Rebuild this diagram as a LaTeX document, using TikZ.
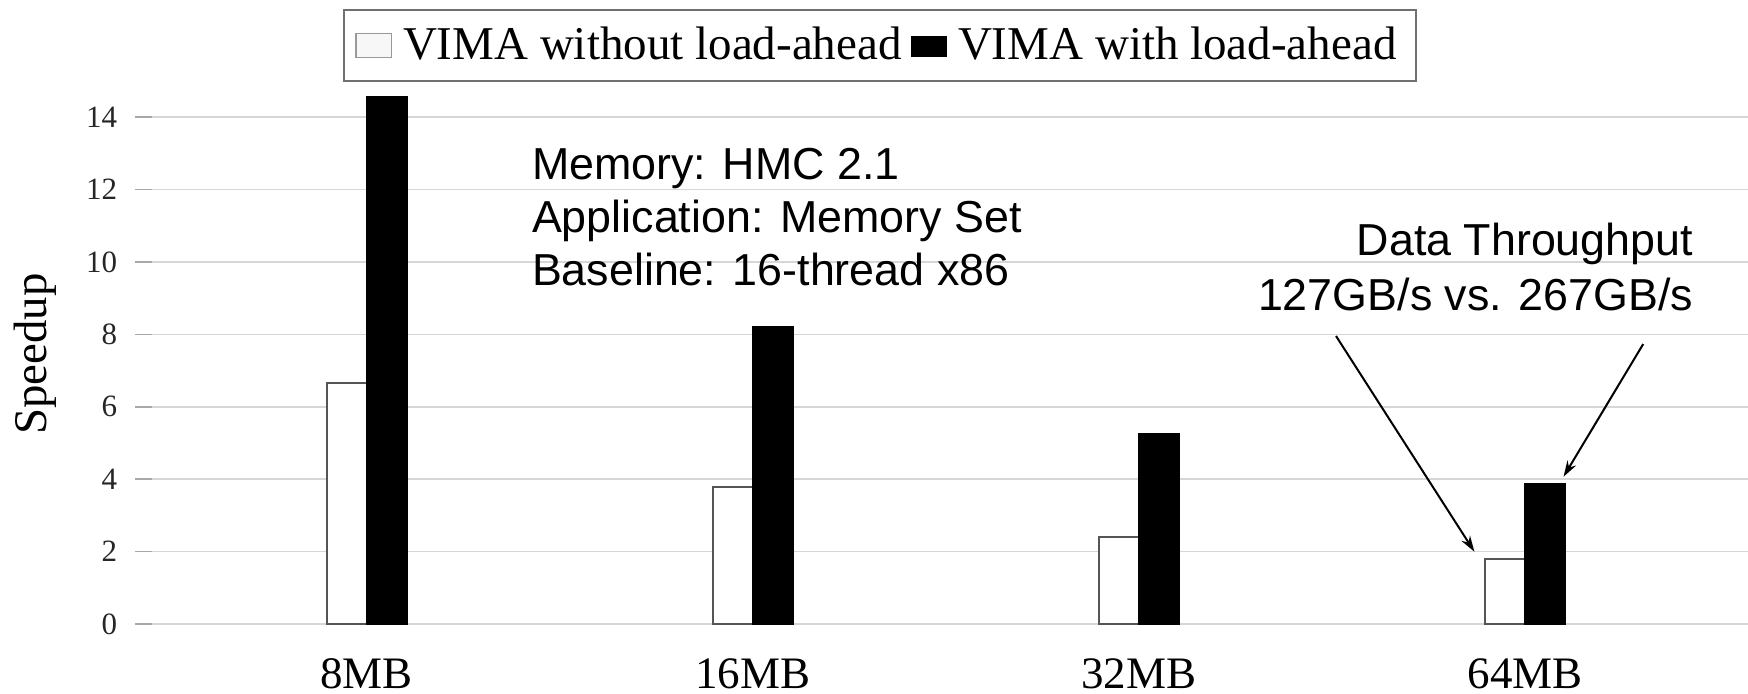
\documentclass[tikz,border=0pt]{standalone}
\usepackage{fontspec}
\setmainfont{Liberation Serif}
\newfontfamily\annfont{Liberation Sans}
\usetikzlibrary{arrows.meta}

\definecolor{gridgray}{HTML}{D6D6D6}
\definecolor{tickgray}{HTML}{A8A8A8}
\definecolor{edgegray}{HTML}{555555}
\definecolor{framegray}{HTML}{707070}

\begin{document}
\begin{tikzpicture}[x=0.5pt,y=-0.5pt,
  every node/.style={inner sep=0pt, outer sep=0pt},
  gridline/.style={draw=gridgray, line width=0.8pt},
  tickmark/.style={draw=tickgray, line width=0.8pt},
  ticklabel/.style={anchor=east, font=\fontsize{15.5}{18}\selectfont, text=black!85},
  catlabel/.style={anchor=base, font=\fontsize{22.5}{26}\selectfont},
  barwhite/.style={draw=edgegray, fill=white, line width=0.8pt},
  barblack/.style={draw=black, fill=black, line width=0.8pt},
  legtext/.style={anchor=base west, font=\fontsize{23.5}{28}\selectfont},
  anntext/.style={font=\annfont\fontsize{22.4}{26}\selectfont},
  pointer/.style={draw=black, line width=1pt, -{Stealth[length=8pt,width=5pt]}}
]
\useasboundingbox (0,0) rectangle (1748,693);

% value axis: 36.2 px per unit, zero at y = 624
\def\yz{624}
\def\yu{36.2}

% horizontal grid lines with labels
\foreach \v in {0,2,...,14} {
  \draw[gridline] (135,{\yz-\v*\yu}) -- (1748,{\yz-\v*\yu});
  \draw[tickmark] (135,{\yz-\v*\yu}) -- (152,{\yz-\v*\yu});
  \node[ticklabel] (tick\v) at (117,{\yz-\v*\yu}) {\v};
}

% axis title
\node[rotate=90, anchor=base, font=\fontsize{23.4}{28}\selectfont] (ytitle) at (46,354) {Speedup};

% bar groups: centre x, value without, value with, label
\foreach \c/\a/\b/\lab [count=\i] in {366.7/6.65/14.56/8MB, 752.8/3.78/8.22/16MB, 1138.9/2.40/5.25/32MB, 1525/1.79/3.87/64MB} {
  \draw[barwhite] (\c-40,\yz) rectangle (\c,{\yz-\a*\yu});
  \draw[barblack] (\c,\yz) rectangle (\c+40,{\yz-\b*\yu});
  \node[catlabel] (cat\i) at (\c,688) {\lab};
}

% legend
\draw[draw=framegray, line width=1.2pt, fill=white] (344,10) rectangle (1416,80.7);
\draw[draw=gray!80, fill=white!97!black, line width=0.7pt] (356,33.3) rectangle (391.7,57.3);
\node[legtext] (leg1) at (403,59.3) {VIMA without load-ahead};
\draw[draw=black, fill=black] (911,36.7) rectangle (946.7,56.7);
\node[legtext] (leg2) at (958,59.3) {VIMA with load-ahead};

% configuration notes
\node[anntext, anchor=base west] (mem1) at (532,179) {Memory: HMC 2.1};
\node[anntext, anchor=base west] (mem2) at (532,232) {Application: Memory Set};
\node[anntext, anchor=base west] (mem3) at (532,285) {Baseline: 16-thread x86};

% throughput note with pointers to the 64MB bars
\node[anntext, anchor=base east] (dt1) at (1693,255.5) {Data Throughput};
\node[anntext, anchor=base east] (dt2) at (1693,310.5) {127GB/s vs. 267GB/s};
\coordinate (pL1) at (1336,336);
\coordinate (pL2) at (1474.4,551.7);
\coordinate (pR1) at (1643.2,344);
\coordinate (pR2) at (1563.5,476.7);
\draw[pointer] (pL1) -- (pL2);
\draw[pointer] (pR1) -- (pR2);
\end{tikzpicture}
\end{document}
